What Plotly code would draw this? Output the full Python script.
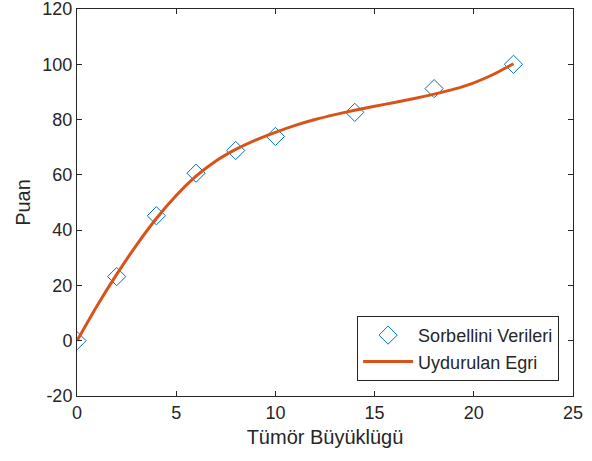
import plotly.graph_objects as go

# Measured data (Sorbellini)
data_x = [0, 2, 4, 6, 8, 10, 14, 18, 22]
data_y = [0, 23.2, 45.2, 60.6, 68.8, 73.9, 82.6, 91.2, 100]

# Fitted curve
fit_x = [0, 1, 2, 3, 4, 5, 6, 7, 8, 9, 10, 11, 12, 13, 14, 15, 16, 17, 18, 19, 20, 21, 22]
fit_y = [0, 12.5, 24.0, 34.6, 44.2, 52.5, 59.5, 65.0, 69.2, 72.6, 75.4, 77.9, 80.0,
         81.8, 83.4, 84.8, 86.2, 87.6, 89.2, 91.0, 93.3, 96.4, 100.2]

x_ticks = [0, 5, 10, 15, 20, 25]
x_tick_labels = ["0", "5", "10", "15", "20", "25"]
y_ticks = [-20, 0, 20, 40, 60, 80, 100, 120]
y_tick_labels = ["-20", "0", "20", "40", "60", "80", "100", "120"]

FONT = "Liberation Sans, Arial, Helvetica, sans-serif"
TXT = "#262626"

fig = go.Figure()
fig.add_trace(go.Scatter(
    x=data_x, y=data_y, mode="markers", name="Sorbellini Verileri",
    marker=dict(symbol="diamond-open", size=14, color="#0072BD",
                line=dict(color="#0072BD", width=1)),
))
fig.add_trace(go.Scatter(
    x=fit_x, y=fit_y, mode="lines", name="Uydurulan Egri",
    line=dict(color="#D95319", width=3, shape="spline", smoothing=0.6),
))

axis_common = dict(
    showline=True, linecolor=TXT, linewidth=1, mirror="ticks",
    ticks="inside", ticklen=5, tickcolor=TXT, tickwidth=1,
    showgrid=False, zeroline=False, automargin=False,
    ticklabeloverflow="allow",
    tickfont=dict(family=FONT, size=18, color=TXT),
)

fig.update_layout(
    width=592, height=461,
    margin=dict(l=77, r=19, t=9, b=65, autoexpand=False),
    paper_bgcolor="white", plot_bgcolor="white",
    font=dict(family=FONT, color=TXT),
    xaxis=dict(range=[0, 25], tickvals=x_ticks, ticktext=x_tick_labels,
               title=dict(text="Tümör Büyüklügü", font=dict(family=FONT, size=20, color=TXT), standoff=8),
               **axis_common),
    yaxis=dict(range=[-20, 120], tickvals=y_ticks, ticktext=y_tick_labels,
               title=dict(text="Puan", font=dict(family=FONT, size=20, color=TXT), standoff=6),
               **axis_common),
    legend=dict(x=0.972, y=0.039, xanchor="right", yanchor="bottom",
                bgcolor="white", bordercolor=TXT, borderwidth=1,
                font=dict(family=FONT, size=18, color=TXT),
                itemwidth=50, tracegroupgap=0),
    showlegend=True,
)

fig.write_html("out.html", config={"displayModeBar": False},
               post_script="document.body.style.margin='0';document.body.style.padding='0';")
